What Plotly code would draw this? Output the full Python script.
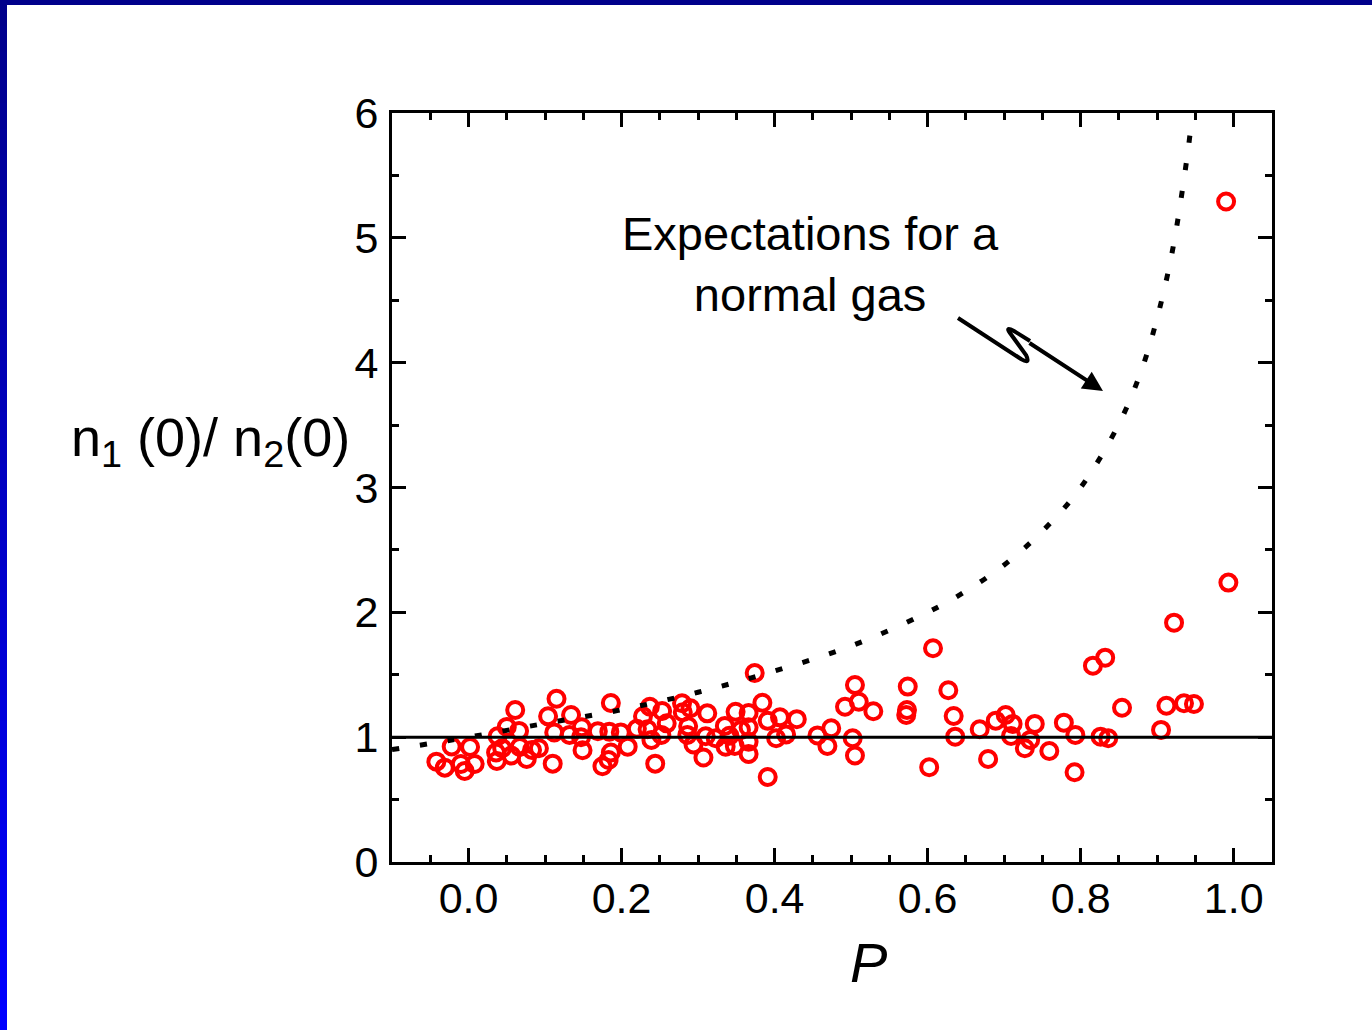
import plotly.graph_objects as go

# ---------------- data ----------------
P_data = [-0.042, -0.031, -0.022, -0.010, -0.005, 0.002, 0.008, 0.038, 0.036, 0.037,
          0.044, 0.050, 0.061, 0.066, 0.056, 0.067, 0.076, 0.083, 0.092, 0.104,
          0.115, 0.112, 0.110, 0.134, 0.132, 0.148, 0.147, 0.149, 0.169, 0.175,
          0.186, 0.184, 0.186, 0.183, 0.199, 0.208, 0.220, 0.228, 0.237, 0.234,
          0.239, 0.244, 0.253, 0.252, 0.259, 0.279, 0.280, 0.290, 0.287, 0.286,
          0.294, 0.312, 0.310, 0.307, 0.323, 0.335, 0.341, 0.336, 0.349, 0.348,
          0.356, 0.366, 0.366, 0.366, 0.366, 0.374, 0.384, 0.391, 0.391, 0.407,
          0.402, 0.415, 0.429, 0.456, 0.469, 0.474, 0.492, 0.505, 0.510, 0.502,
          0.505, 0.529, 0.572, 0.573, 0.574, 0.602, 0.607, 0.627, 0.634, 0.636,
          0.668, 0.679, 0.689, 0.702, 0.711, 0.709, 0.727, 0.734, 0.740, 0.759,
          0.778, 0.793, 0.792, 0.826, 0.836, 0.816, 0.832, 0.854, 0.905, 0.912,
          0.935, 0.948, 0.922, 0.993, 0.990]
R_data = [0.804, 0.756, 0.925, 0.785, 0.729, 0.921, 0.785, 1.007, 0.877, 0.809,
          0.911, 1.082, 1.218, 1.050, 0.853, 0.921, 0.825, 0.897, 0.911, 1.167,
          1.308, 1.038, 0.788, 1.178, 1.018, 1.079, 0.999, 0.895, 1.048, 0.767,
          1.274, 1.044, 0.877, 0.817, 1.038, 0.924, 1.067, 1.167, 1.244, 1.063,
          0.978, 0.788, 1.210, 1.018, 1.111, 1.272, 1.200, 1.232, 1.087, 1.018,
          0.942, 1.191, 1.007, 0.837, 0.991, 1.090, 1.011, 0.924, 1.204, 0.929,
          1.058, 1.194, 1.079, 0.964, 0.865, 1.514, 1.276, 1.131, 0.681, 1.159,
          0.991, 1.022, 1.144, 1.014, 0.929, 1.071, 1.244, 1.418, 1.284, 0.991,
          0.853, 1.208, 1.178, 1.218, 1.405, 0.759, 1.712, 1.376, 1.170, 1.004,
          1.063, 0.825, 1.132, 1.178, 1.106, 1.010, 0.911, 0.978, 1.106, 0.889,
          1.116, 1.018, 0.719, 1.004, 0.991, 1.573, 1.637, 1.236, 1.058, 1.252,
          1.272, 1.266, 1.917, 2.238, 5.291]

# normal-gas expectation curve
P_curve = [-0.10, 0.00, 0.10, 0.20, 0.30, 0.40, 0.50, 0.60, 0.65, 0.70,
           0.75, 0.80, 0.85, 0.88, 0.90, 0.92, 0.94, 0.945]
R_curve = [0.90, 1.00, 1.11, 1.22, 1.36, 1.53, 1.73, 2.00, 2.17, 2.38,
           2.65, 3.00, 3.51, 3.95, 4.36, 4.90, 5.69, 5.95]

x_ticks = [0.0, 0.2, 0.4, 0.6, 0.8, 1.0]
x_ticktext = ["0.0", "0.2", "0.4", "0.6", "0.8", "1.0"]
y_ticks = [0, 1, 2, 3, 4, 5, 6]

# ---------------- layout geometry ----------------
W, H = 1372, 1030
L, R, T, B = 392, 1272, 113, 862
FONT = "Liberation Sans, Arial, Helvetica, sans-serif"


def px2paper(px, py):
    return (px - L) / (R - L), (B - py) / (B - T)


fig = go.Figure()

fig.add_trace(go.Scatter(
    x=P_data, y=R_data, mode="markers",
    marker=dict(symbol="circle-open", size=16, color="#ff0000",
                line=dict(width=4, color="#ff0000")),
    showlegend=False, hoverinfo="x+y"))

fig.add_trace(go.Scatter(
    x=P_curve, y=R_curve, mode="lines",
    line=dict(color="black", width=5, dash="7px,21px", shape="spline", smoothing=1.0),
    showlegend=False, hoverinfo="skip"))

shapes = []
# reference line at ratio = 1
shapes.append(dict(type="line", xref="paper", yref="y", x0=0, x1=1, y0=1, y1=1,
                   line=dict(color="black", width=3), layer="above"))

# zig-zag arrow body (pixel points converted to paper coords)
pts = [(958, 318), (1021, 359), (1031, 365), (1026, 355), (1010, 333), (1005, 326), (1014, 331), (1030, 341)]
p = [px2paper(*q) for q in pts]
path = (f"M {p[0][0]},{p[0][1]} L {p[1][0]},{p[1][1]} Q {p[2][0]},{p[2][1]} {p[3][0]},{p[3][1]} "
        f"L {p[4][0]},{p[4][1]} Q {p[5][0]},{p[5][1]} {p[6][0]},{p[6][1]} L {p[7][0]},{p[7][1]}")
shapes.append(dict(type="path", xref="paper", yref="paper", path=path,
                   line=dict(color="black", width=4), layer="above"))

# slide border: top bar and left gradient bar
x_left = -L / (R - L)
x_bar = (7 - L) / (R - L)
shapes.append(dict(type="rect", xref="paper", yref="paper",
                   x0=x_left, x1=(W - L) / (R - L), y0=(B - 5) / (B - T), y1=B / (B - T),
                   fillcolor="#00008b", line=dict(width=0), layer="above"))
n = 40
for i in range(n):
    y0p = i * H / n
    y1p = (i + 1) * H / n + 1
    t = i / (n - 1)
    b = int(round(0x8b + (0xff - 0x8b) * t))
    shapes.append(dict(type="rect", xref="paper", yref="paper",
                       x0=x_left, x1=x_bar,
                       y0=(B - y1p) / (B - T), y1=(B - y0p) / (B - T),
                       fillcolor=f"rgb(0,0,{b})", line=dict(width=0), layer="above"))

annotations = []
tip = px2paper(1103, 391)
tail = (1028, 342)
annotations.append(dict(xref="paper", yref="paper", x=tip[0], y=tip[1],
                        ax=tail[0] - 1103, ay=tail[1] - 391, axref="pixel", ayref="pixel",
                        text="", showarrow=True, arrowhead=2, arrowsize=1.0,
                        arrowwidth=4, arrowcolor="black"))
ax_, ay_ = px2paper(810, 264)
annotations.append(dict(xref="paper", yref="paper", x=ax_, y=ay_, xanchor="center", yanchor="middle",
                        text="Expectations for a<br>normal gas", showarrow=False,
                        font=dict(family=FONT, size=47, color="black"), align="center"))
tx, ty = px2paper(210, 441)
annotations.append(dict(xref="paper", yref="paper", x=tx, y=ty, xanchor="center", yanchor="middle",
                        text="n<sub>1</sub> (0)/ n<sub>2</sub>(0)", showarrow=False,
                        font=dict(family=FONT, size=54, color="black")))
px_, py_ = px2paper(868, 962)
annotations.append(dict(xref="paper", yref="paper", x=px_, y=py_, xanchor="center", yanchor="middle",
                        text="<i>P</i>", showarrow=False,
                        font=dict(family=FONT, size=56, color="black")))

axis_common = dict(showline=True, linecolor="black", linewidth=3, mirror="ticks",
                   ticks="inside", tickcolor="black", ticklen=14, tickwidth=3,
                   showgrid=False, zeroline=False,
                   tickfont=dict(family=FONT, size=43, color="black"))

fig.update_layout(
    width=W, height=H,
    margin=dict(l=L, r=W - R, t=T, b=H - B, pad=0),
    paper_bgcolor="white", plot_bgcolor="white",
    xaxis=dict(range=[-0.1, 1.05], tickvals=x_ticks, ticktext=x_ticktext, ticklabelstandoff=-4,
               minor=dict(dtick=0.05, tick0=0, ticks="inside", ticklen=7, tickwidth=3, tickcolor="black"),
               **axis_common),
    yaxis=dict(range=[0, 6], tickvals=y_ticks, ticklabelstandoff=2,
               minor=dict(dtick=0.5, tick0=0, ticks="inside", ticklen=7, tickwidth=3, tickcolor="black"),
               **axis_common),
    shapes=shapes, annotations=annotations,
    font=dict(family=FONT, color="black"),
)

fig.write_html("out.html")
